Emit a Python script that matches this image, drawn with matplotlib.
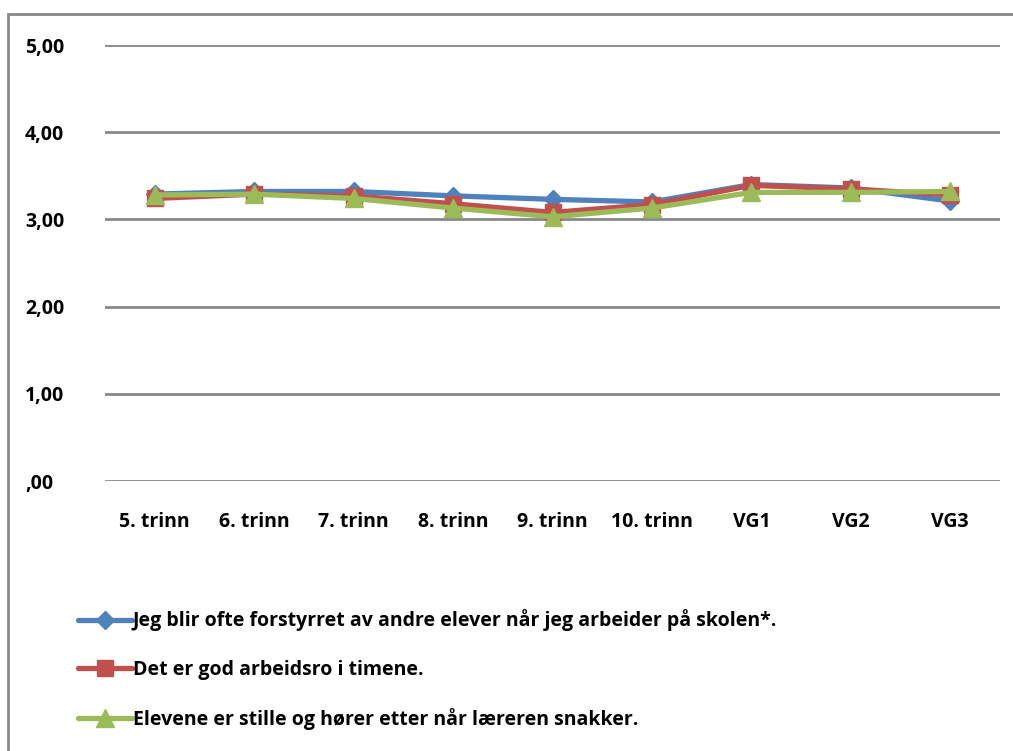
import matplotlib
matplotlib.use("Agg")
import matplotlib.pyplot as plt
from matplotlib.patches import Rectangle

categories = ["5. trinn", "6. trinn", "7. trinn", "8. trinn", "9. trinn",
              "10. trinn", "VG1", "VG2", "VG3"]
forstyrret = [3.29, 3.32, 3.32, 3.27, 3.23, 3.20, 3.40, 3.36, 3.21]
arbeidsro = [3.24, 3.29, 3.27, 3.18, 3.08, 3.17, 3.39, 3.35, 3.28]
stille = [3.28, 3.29, 3.24, 3.13, 3.03, 3.13, 3.31, 3.31, 3.32]
yticks = [0, 1, 2, 3, 4, 5]
ytick_labels = [",00", "1,00", "2,00", "3,00", "4,00", "5,00"]
labels = ["Jeg blir ofte forstyrret av andre elever når jeg arbeider på skolen*.",
          "Det er god arbeidsro i timene.",
          "Elevene er stille og hører etter når læreren snakker."]

plt.rcParams['font.family'] = ['Open Sans', 'DejaVu Sans']
plt.rcParams['font.weight'] = 'bold'

W, H = 1013, 751
fig = plt.figure(figsize=(W / 100, H / 100), dpi=100)
fig.patches.append(Rectangle((8 / W, -0.1), 1.2, 1 - 14 / H + 0.1,
                             transform=fig.transFigure, fill=False,
                             edgecolor="#888888", lw=2))

ax = fig.add_axes([105 / W, 1 - 481 / H, 895 / W, (481 - 45) / H])
x = list(range(len(categories)))
ax.set_xlim(-0.5, len(categories) - 0.5)
ax.set_ylim(0, 5)
ax.set_yticks(yticks)
ax.set_yticklabels(ytick_labels, fontsize=14, fontweight='bold')
for t in ax.get_yticklabels():
    t.set_horizontalalignment('left')
ax.tick_params(axis='y', length=0, pad=57.6)
ax.set_xticks(x)
ax.set_xticklabels(categories, fontsize=14, fontweight='bold')
ax.tick_params(axis='x', length=0, pad=22)
ax.grid(axis='y', color="#888888", lw=2)
ax.set_axisbelow(True)
for s in ax.spines.values():
    s.set_visible(False)

l1, = ax.plot(x, forstyrret, color="#4F81BD", lw=3.8, marker='D', ms=9,
              label=labels[0], solid_capstyle='round')
l2, = ax.plot(x, arbeidsro, color="#C0504D", lw=3.8, marker='s', ms=11,
              label=labels[1], solid_capstyle='round')
l3, = ax.plot(x, stille, color="#9BBB59", lw=3.8, marker='^', ms=13,
              label=labels[2], solid_capstyle='round')

fig.legend(handles=[l1, l2, l3], loc='upper left',
           bbox_to_anchor=(60 / W, 1 - 592 / H), frameon=False,
           prop={'size': 14, 'weight': 'bold'}, handlelength=2.8,
           handletextpad=0.05, labelspacing=1.45)

fig.savefig("out.png", dpi=100)
